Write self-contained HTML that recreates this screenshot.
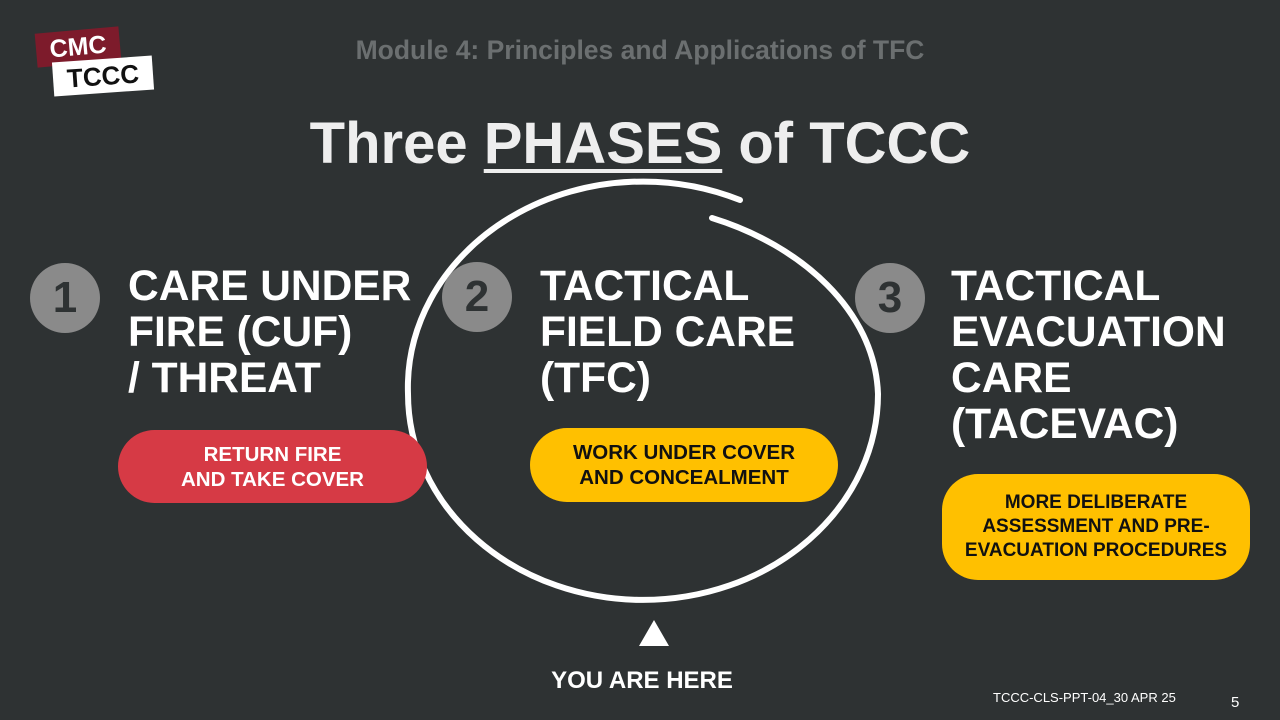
<!DOCTYPE html>
<html><head><style>
body{margin:0;width:1280px;height:720px;background:#2e3233;position:relative;overflow:hidden;font-family:"Liberation Sans",Arial,sans-serif;font-weight:bold;}
.a{position:absolute;}
.h{color:#fff;font-size:42.5px;line-height:46px;}
.num{width:70px;height:70px;border-radius:50%;background:#8a8a8a;color:#2e3233;font-size:44px;line-height:70px;text-align:center;}
.pill{display:flex;align-items:center;justify-content:center;text-align:center;font-size:20.5px;line-height:25px;}
</style></head><body>
<div class="a" style="left:36px;top:30px;width:84px;height:34px;background:#7d1b2b;transform:rotate(-5deg);color:#fff;font-size:25px;line-height:34px;text-align:center;">CMC</div>
<div class="a" style="left:53px;top:59px;width:100px;height:34px;background:#fff;transform:rotate(-4deg);color:#111;font-size:26px;line-height:34px;text-align:center;">TCCC</div>
<div class="a" style="left:0;width:1280px;top:35px;text-align:center;color:#6b6f70;font-size:26.5px;">Module 4: Principles and Applications of TFC</div>
<div class="a" style="left:0;width:1280px;top:110px;text-align:center;color:#eee;font-size:58px;">Three <span style="text-decoration:underline;text-decoration-thickness:4px;text-underline-offset:6px;">PHASES</span> of TCCC</div>
<svg class="a" style="left:0;top:0" width="1280" height="720">
<path d="M740 200 A235 206 0 0 0 408 394 A235 206 0 0 0 878 394 C875 310 800 245 712 218" fill="none" stroke="#fff" stroke-width="6" stroke-linecap="round"/>
<polygon points="654,620 639,646 669,646" fill="#fff"/>
</svg>
<div class="a num" style="left:30px;top:263px;">1</div>
<div class="a num" style="left:442px;top:262px;">2</div>
<div class="a num" style="left:855px;top:263px;">3</div>
<div class="a h" style="left:128px;top:264px;">CARE UNDER<br>FIRE (CUF)<br>/ THREAT</div>
<div class="a h" style="left:540px;top:264px;">TACTICAL<br>FIELD CARE<br>(TFC)</div>
<div class="a h" style="left:951px;top:264px;">TACTICAL<br>EVACUATION<br>CARE<br>(TACEVAC)</div>
<div class="a pill" style="left:118px;top:430px;width:309px;height:73px;border-radius:37px;background:#d63a45;color:#fff;">RETURN FIRE<br>AND TAKE COVER</div>
<div class="a pill" style="left:530px;top:428px;width:308px;height:74px;border-radius:37px;background:#ffc000;color:#111;">WORK UNDER COVER<br>AND CONCEALMENT</div>
<div class="a pill" style="left:942px;top:474px;width:308px;height:106px;border-radius:36px;background:#ffc000;color:#111;font-size:19px;line-height:24px;">MORE DELIBERATE<br>ASSESSMENT AND PRE-<br>EVACUATION PROCEDURES</div>
<div class="a" style="left:442px;width:400px;top:667px;text-align:center;color:#fff;font-size:24px;">YOU ARE HERE</div>
<div class="a" style="left:993px;top:690px;color:#fff;font-size:13px;font-weight:normal;">TCCC-CLS-PPT-04_30 APR 25</div>
<div class="a" style="left:1231px;top:694px;color:#fff;font-size:15px;font-weight:normal;">5</div>
</body></html>
